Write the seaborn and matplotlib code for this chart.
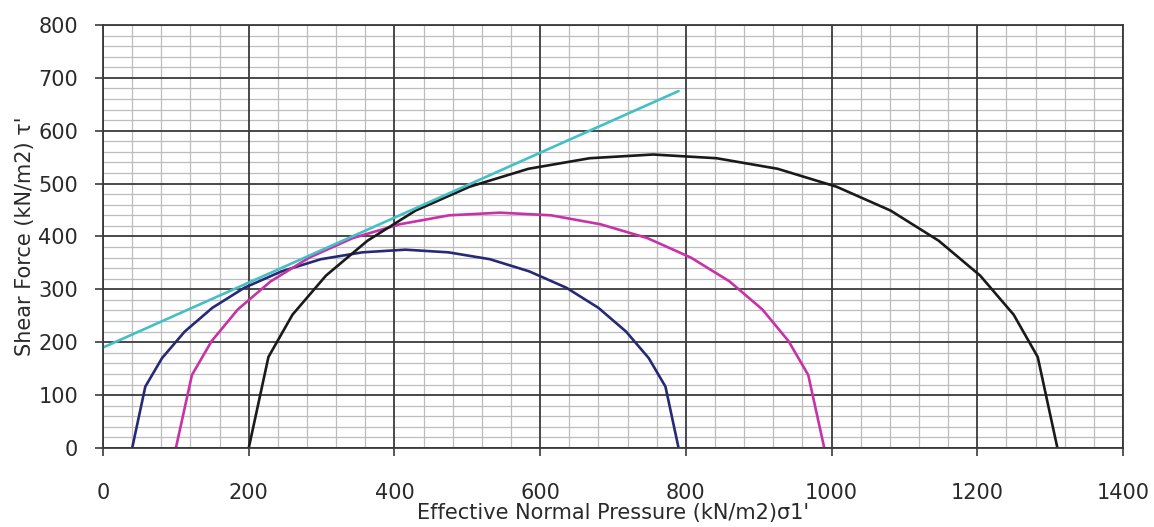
import matplotlib
matplotlib.use("Agg")
import matplotlib.pyplot as plt
import seaborn as sns
import pandas as pd
from matplotlib.ticker import MultipleLocator

# Mohr circles (sigma', tau')
blue_x = [40, 58, 81, 112, 150, 194, 245, 299, 356, 415, 474, 531, 585, 636, 680, 718, 749, 772, 790]
blue_y = [0, 116, 170, 220, 265, 303, 334, 357, 370, 375, 370, 357, 334, 303, 265, 220, 170, 116, 0]

pink_x = [100, 122, 149, 185, 230, 283, 343, 407, 475, 545, 615, 683, 747, 807, 860, 905, 941, 968, 990]
pink_y = [0, 138, 202, 262, 315, 360, 397, 423, 440, 445, 440, 423, 397, 360, 315, 262, 202, 138, 0]

black_x = [200, 227, 260, 306, 363, 429, 503, 584, 668, 755, 842, 926, 1007, 1081, 1147, 1204, 1250, 1283, 1310]
black_y = [0, 172, 252, 326, 392, 449, 494, 528, 548, 555, 548, 528, 494, 449, 392, 326, 252, 172, 0]

# failure envelope
env_x = [0, 790]
env_y = [190, 675]

sns.set_style("white")
plt.rcParams["font.family"] = ["DejaVu Sans"]

fig = plt.figure(figsize=(11.54, 5.27), dpi=100)
ax = fig.add_axes([0.0893, 0.150, 0.8838, 0.8026])

ax.set_xlim(0, 1400)
ax.set_ylim(0, 800)
ax.xaxis.set_major_locator(MultipleLocator(200))
ax.xaxis.set_minor_locator(MultipleLocator(40))
ax.yaxis.set_major_locator(MultipleLocator(100))
ax.yaxis.set_minor_locator(MultipleLocator(20))
ax.grid(which="minor", color="#bdbdbd", linewidth=0.9, zorder=0.3)
ax.set_axisbelow(True)

# major grid on top of the minor one so it stays solid
for xv in ax.get_xticks():
    ax.axvline(xv, color="#3a3a3a", linewidth=1.3, zorder=0.8)
for yv in ax.get_yticks():
    ax.axhline(yv, color="#3a3a3a", linewidth=1.3, zorder=0.8)

curves = [
    (blue_x, blue_y, "#262a74"),
    (pink_x, pink_y, "#c832a8"),
    (black_x, black_y, "#1a1a1a"),
    (env_x, env_y, "#45bfc6"),
]
for xs, ys, col in curves:
    df = pd.DataFrame({"x": xs, "y": ys})
    sns.lineplot(data=df, x="x", y="y", sort=False, color=col, linewidth=1.9, ax=ax)

ax.set_xlim(0, 1400)
ax.set_ylim(0, 800)

for s in ax.spines.values():
    s.set_color("#3a3a3a")
    s.set_linewidth(1.3)

ax.tick_params(which="major", direction="out", length=6, width=1.2, color="#3a3a3a",
               labelsize=15, labelcolor="#2a2a2a", bottom=True, left=True)
ax.tick_params(axis="x", pad=19)
ax.tick_params(axis="y", pad=12)
ax.tick_params(which="minor", length=0)

ax.set_xlabel("Effective Normal Pressure (kN/m2)σ1'", fontsize=15, color="#2a2a2a", labelpad=0)
ax.set_ylabel("Shear Force (kN/m2) τ'", fontsize=15, color="#2a2a2a", labelpad=2)

fig.savefig("out.png", dpi=100)
